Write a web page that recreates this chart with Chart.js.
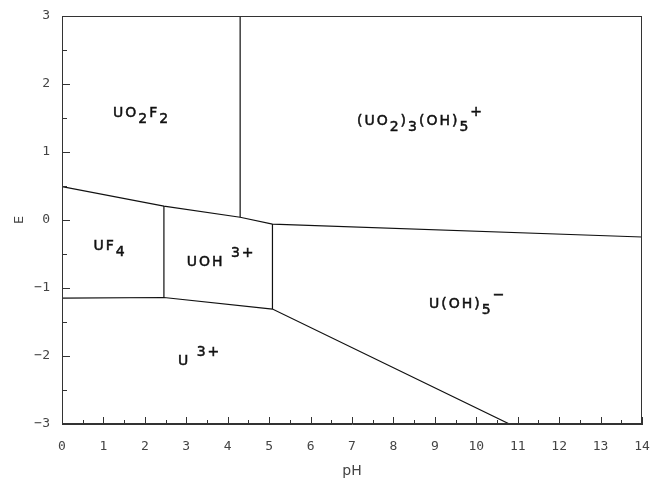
<!DOCTYPE html>
<html>
<head>
<meta charset="utf-8">
<script src="https://cdn.jsdelivr.net/npm/chart.js@4"></script>
<style>
html,body{margin:0;padding:0;background:#fff;}
#wrap{width:650px;height:488px;}
</style>
</head>
<body>
<div id="wrap"><canvas id="c" width="650" height="488"></canvas></div>
<script>
// ---- data ----
const xTicks = [0,1,2,3,4,5,6,7,8,9,10,11,12,13,14];
const yTicks = [-3,-2,-1,0,1,2,3];

const upperBoundaryPH = [0, 2.46, 4.30, 5.08, 14];
const upperBoundaryE  = [0.49, 0.205, 0.04, -0.06, -0.25];

const lowerBoundaryPH = [0, 2.46, 5.08, 10.8];
const lowerBoundaryE  = [-1.15, -1.14, -1.31, -3];

const uo2VerticalPH = [4.30, 4.30];
const uo2VerticalE  = [3, 0.04];

const uf4VerticalPH = [2.46, 2.46];
const uf4VerticalE  = [0.205, -1.14];

const uohVerticalPH = [5.08, 5.08];
const uohVerticalE  = [-0.06, -1.31];

// region labels: parts [text, kind] where kind n=normal, b=subscript, p=superscript
const regionLabels = [
  {ph: 1.23, e: 1.51, parts: [["UO","n"],["2","b"],["F","n"],["2","b"]]},
  {ph: 7.12, e: 1.40, parts: [["(UO","n"],["2","b"],[")","n"],["3","b"],["(OH)","n"],["5","b"],["+","p"]]},
  {ph: 0.76, e: -0.44, parts: [["UF","n"],["4","b"]]},
  {ph: 3.01, e: -0.675, parts: [["UOH","n"],[" 3+","p"]]},
  {ph: 8.86, e: -1.30, parts: [["U(OH)","n"],["5","b"],["\u2212","p"]]},
  {ph: 2.80, e: -2.13, parts: [["U","n"],[" 3+","p"]]}
];

function series(xs, ys){ return xs.map((x,i)=>({x:x, y:ys[i]})); }
function lineDs(xs, ys){
  return {data: series(xs, ys), showLine: true, borderColor: '#111', borderWidth: 1.2,
          pointRadius: 0, pointHoverRadius: 0, fill: false, tension: 0};
}

const frameAndTicks = {
  id: 'frameAndTicks',
  afterDraw(chart){
    const {ctx, chartArea: a, scales: {x, y}} = chart;
    ctx.save();
    ctx.strokeStyle = '#333';
    ctx.lineWidth = 1;
    ctx.strokeRect(a.left + 0.5, a.top + 0.5, a.right - a.left - 1, a.bottom - a.top - 1);
    ctx.beginPath();
    for (let v = x.min; v <= x.max + 1e-9; v += 0.5) {
      const px = Math.round(x.getPixelForValue(v)) + 0.5;
      const len = Number.isInteger(v) ? 7 : 4;
      ctx.moveTo(px, a.bottom); ctx.lineTo(px, a.bottom - len);
    }
    for (let v = y.min; v <= y.max + 1e-9; v += 0.5) {
      const py = Math.round(y.getPixelForValue(v)) + 0.5;
      const len = Number.isInteger(v) ? 8 : 5;
      ctx.moveTo(a.left, py); ctx.lineTo(a.left + len, py);
    }
    ctx.stroke();

    // region labels
    ctx.fillStyle = '#111';
    ctx.strokeStyle = '#111';
    ctx.lineWidth = 0.5;
    ctx.textBaseline = 'alphabetic';
    ctx.textAlign = 'left';
    ctx.font = '14px "DejaVu Sans"';
    try { ctx.letterSpacing = '2px'; } catch(e) {}
    regionLabels.forEach(l => {
      let px = x.getPixelForValue(l.ph);
      const py = y.getPixelForValue(l.e);
      l.parts.forEach(([t, k]) => {
        const dy = k === 'b' ? 6 : (k === 'p' ? -9 : 0);
        ctx.fillText(t, px, py + dy);
        ctx.strokeText(t, px, py + dy);
        px += ctx.measureText(t).width;
      });
    });
    ctx.restore();
  }
};

new Chart(document.getElementById('c'), {
  type: 'scatter',
  data: {
    datasets: [
      lineDs(upperBoundaryPH, upperBoundaryE),
      lineDs(lowerBoundaryPH, lowerBoundaryE),
      lineDs(uo2VerticalPH, uo2VerticalE),
      lineDs(uf4VerticalPH, uf4VerticalE),
      lineDs(uohVerticalPH, uohVerticalE)
    ]
  },
  options: {
    responsive: false,
    animation: false,
    events: [],
    layout: {padding: {top: 16, right: 8, left: 0, bottom: 0}},
    plugins: {legend: {display: false}, tooltip: {enabled: false}},
    scales: {
      x: {
        type: 'linear', min: 0, max: 14,
        afterFit(s){ s.height = 64; s.paddingRight = 0; s.paddingLeft = 0; },
        afterBuildTicks(s){ s.ticks = xTicks.map(v => ({value: v})); },
        grid: {display: false, drawTicks: false},
        border: {display: true, color: '#333'},
        ticks: {padding: 15, color: '#444', font: {family: '"DejaVu Sans Mono"', size: 13}, maxRotation: 0},
        title: {display: true, text: 'pH', color: '#444', font: {family: '"DejaVu Sans"', size: 14}, padding: {top: 0, bottom: 8}}
      },
      y: {
        type: 'linear', min: -3, max: 3,
        afterFit(s){ s.width = 62; s.paddingTop = 0; s.paddingBottom = 0; },
        afterBuildTicks(s){ s.ticks = yTicks.map(v => ({value: v})); },
        grid: {display: false, drawTicks: false},
        border: {display: true, color: '#333'},
        ticks: {padding: 12, color: '#444', font: {family: '"DejaVu Sans Mono"', size: 13},
                callback: v => (v < 0 ? '\u2212' + Math.abs(v) : String(v))},
        title: {display: true, text: 'E', color: '#444', font: {family: '"DejaVu Sans"', size: 13}, padding: {top: 12, bottom: 0}}
      }
    }
  },
  plugins: [frameAndTicks]
});
</script>
</body>
</html>
